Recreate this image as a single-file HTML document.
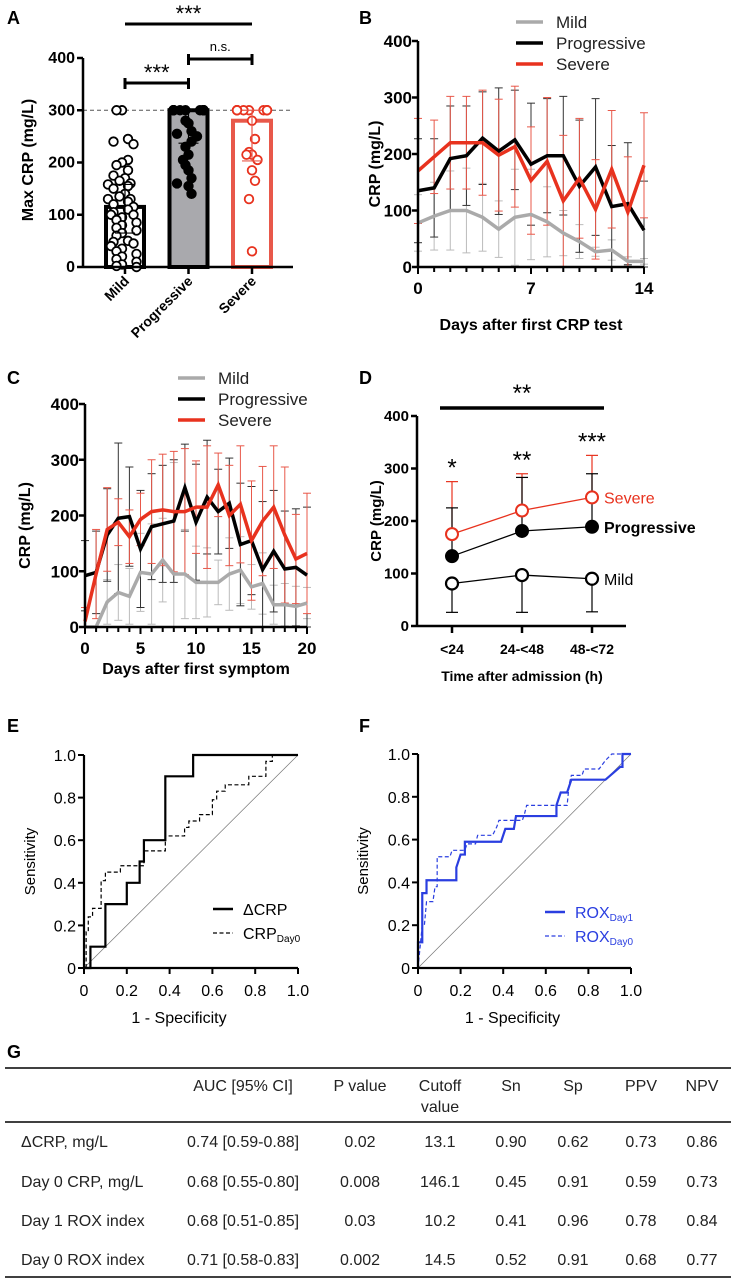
<!DOCTYPE html>
<html><head><meta charset="utf-8"><style>
html,body{margin:0;padding:0;background:#fff;}
svg{display:block;font-family:"Liberation Sans",sans-serif;}
</style></head><body>
<svg id="fig" width="736" height="1280" viewBox="0 0 736 1280" xmlns="http://www.w3.org/2000/svg"></svg>
<script>
// ---------- Panel A data ----------
const aCats = ["Mild","Progressive","Severe"];
const aMeans = [115, 300, 280];
const aErrHi = [158, 300, 300];
const aErrLo = [65, 237, 203];
const aMild = [300,300,245,240,235,205,200,195,185,175,170,165,160,158,155,150,140,135,130,130,125,120,115,110,105,100,100,95,90,85,80,75,70,65,60,50,48,45,40,35,30,25,20,15,10,5,2,0];
const aProg = [300,300,300,300,300,300,300,300,300,300,300,300,300,300,300,280,275,260,255,250,240,230,215,205,195,185,170,160,155,140];
const aSev = [300,300,300,300,300,300,300,300,300,300,280,245,220,215,215,205,185,165,130,30];
const aTicks = [0,100,200,300,400];
// ---------- Panel B data ----------
const bDays = [0,1,2,3,4,5,6,7,8,9,10,11,12,13,14];
const bMild = [78,90,100,100,88,67,88,93,80,60,45,27,30,10,10];
const bMildSD = [50,60,70,75,60,50,85,80,62,40,30,8,18,8,5];
const bProg = [135,140,192,197,228,205,225,182,197,197,143,177,107,112,65];
const bProgSD = [92,87,93,88,82,112,88,108,101,105,117,121,108,108,87];
const bSev = [170,195,220,220,220,198,213,153,187,117,157,102,173,97,180];
const bSevSD = [93,65,82,82,93,99,107,95,113,116,106,88,104,98,93];
const bTicksY = [0,100,200,300,400];
const bTicksX = [0,7,14];
// ---------- Panel C data ----------
const cDays = [0,1,2,3,4,5,6,7,8,9,10,11,12,13,14,15,16,17,18,19,20];
const cMild = [0,0,45,62,55,98,95,120,95,95,80,80,80,95,102,72,78,40,40,37,43];
const cMildSD = [0,0,40,50,50,70,90,75,200,80,65,62,40,65,60,40,55,35,38,36,28];
const cProg = [92,98,165,195,198,140,180,185,190,250,188,233,207,222,148,155,103,136,104,107,93];
const cProgSD = [63,74,83,135,89,105,95,105,110,78,104,102,76,81,110,97,122,109,104,105,122];
const cSev = [10,95,175,188,162,193,207,210,207,207,215,215,255,200,220,155,190,215,165,122,132];
const cSevSD = [25,80,75,42,48,47,93,100,108,113,83,110,57,90,105,107,98,110,122,80,108];
const cTicksY = [0,100,200,300,400];
const cTicksX = [0,5,10,15,20];
// ---------- Panel D data ----------
const dCats = ["<24","24-<48","48-<72"];
const dSev = [175,220,245];
const dSevSD = [100,70,80];
const dProg = [133,181,189];
const dProgSD = [92,102,101];
const dMild = [81,97,90];
const dMildSD = [55,71,63];
const dStars = ["*","**","***"];
const dTicks = [0,100,200,300,400];
// ---------- Panel E data ----------
const eDeltaX = [0,0.03,0.03,0.1,0.1,0.2,0.2,0.26,0.26,0.28,0.28,0.38,0.38,0.51,0.51,1];
const eDeltaY = [0,0,0.1,0.1,0.3,0.3,0.4,0.4,0.5,0.5,0.6,0.6,0.9,0.9,1,1];
const eDay0X = [0.01,0.01,0.02,0.02,0.04,0.04,0.08,0.08,0.1,0.1,0.17,0.17,0.28,0.28,0.38,0.38,0.47,0.47,0.49,0.49,0.54,0.54,0.6,0.6,0.62,0.62,0.66,0.66,0.77,0.77,0.85,0.85,0.88,0.88];
const eDay0Y = [0,0.17,0.17,0.24,0.24,0.28,0.28,0.41,0.41,0.45,0.45,0.48,0.48,0.55,0.55,0.62,0.62,0.66,0.66,0.69,0.69,0.72,0.72,0.79,0.79,0.83,0.83,0.86,0.86,0.9,0.9,0.97,0.97,1];
const rocTicks = [0,0.2,0.4,0.6,0.8,1.0];
const rocTickLabels = ["0","0.2","0.4","0.6","0.8","1.0"];
// ---------- Panel F data ----------
const fDay1X = [0,0,0.02,0.02,0.04,0.04,0.18,0.18,0.2,0.22,0.22,0.39,0.41,0.45,0.46,0.65,0.65,0.67,0.7,0.72,0.88,0.95,0.96,0.96,1];
const fDay1Y = [0,0.12,0.12,0.35,0.35,0.41,0.41,0.47,0.53,0.53,0.59,0.59,0.65,0.65,0.71,0.71,0.76,0.82,0.82,0.88,0.88,0.94,0.94,1,1];
const fDay0X = [0,0.02,0.03,0.04,0.07,0.08,0.09,0.09,0.15,0.16,0.22,0.23,0.27,0.28,0.35,0.37,0.38,0.49,0.5,0.51,0.7,0.71,0.72,0.77,0.78,0.85,0.88,0.91,1];
const fDay0Y = [0,0.2,0.2,0.31,0.31,0.38,0.38,0.52,0.52,0.55,0.55,0.58,0.58,0.62,0.62,0.66,0.69,0.69,0.72,0.76,0.76,0.86,0.9,0.9,0.93,0.93,0.97,1,1];
// ---------- Table data ----------
const tHeaders = ["AUC [95% CI]","P value","Cutoff","Sn","Sp","PPV","NPV"];
const tRowLabels = ["\u0394CRP, mg/L","Day 0 CRP, mg/L","Day 1 ROX index","Day 0 ROX index"];
const tRows = [
 ["0.74 [0.59-0.88]","0.02","13.1","0.90","0.62","0.73","0.86"],
 ["0.68 [0.55-0.80]","0.008","146.1","0.45","0.91","0.59","0.73"],
 ["0.68 [0.51-0.85]","0.03","10.2","0.41","0.96","0.78","0.84"],
 ["0.71 [0.58-0.83]","0.002","14.5","0.52","0.91","0.68","0.77"]];

const NS="http://www.w3.org/2000/svg";
const svg=document.getElementById('fig');
function mk(tag,attrs,parent){const e=document.createElementNS(NS,tag);for(const k in attrs)e.setAttribute(k,attrs[k]);(parent||svg).appendChild(e);return e;}
function grp(name){const g=mk('g',{});return g;}
function txt(p,x,y,s,o){const t=mk('text',Object.assign({x:x,y:y,'font-size':15,fill:'#000'},o||{}),p);t.textContent=s;return t;}
function line(p,x1,y1,x2,y2,c,w,extra){return mk('line',Object.assign({x1:x1,y1:y1,x2:x2,y2:y2,stroke:c,'stroke-width':w},extra||{}),p);}
function poly(p,xs,ys,c,w,extra){let pts=xs.map((x,i)=>x+','+ys[i]).join(' ');return mk('polyline',Object.assign({points:pts,fill:'none',stroke:c,'stroke-width':w,'stroke-linejoin':'miter'},extra||{}),p);}
const RED='#e8321e', GRAY='#aaaaaa';
function panelLabel(s,x,y){const g=grp('panel-label-'+s.toLowerCase());txt(g,x,y,s,{'font-size':18,'font-weight':'bold'});}

// ===== Panel A =====
(function(){
 const g=grp('panel-a');
 const y=v=>267-v*209/400;
 const cx=i=>125+i*63.5;
 panelLabel('A',7,24);
 const barStyles=[{fill:'#fff',stroke:'#000'},{fill:'#a9a9ad',stroke:'#000'},{fill:'#fff',stroke:'#e8584a'}];
 aCats.forEach((c,i)=>{
  const b=mk('rect',{x:cx(i)-19,y:y(aMeans[i]),width:38,height:y(0)-y(aMeans[i]),fill:barStyles[i].fill,stroke:barStyles[i].stroke,'stroke-width':4},g);
  
  
 });
 line(g,83,y(300),293,y(300),'#555',1,{'stroke-dasharray':'4,3'});
 function dots(arr,i,fill,stroke,name,lim){
  const counts={};
  arr.forEach((v,k)=>{
   const key=Math.round(v/15);counts[key]=(counts[key]||0)+1;
   const n=counts[key]-1;
   const off=(n%2===0?1:-1)*Math.ceil(n/2)*8.5 + ((k%3)-1)*3;
   const d=mk('circle',{cx:cx(i)+Math.max(-lim,Math.min(lim,off)),cy:y(v),r:4.3,fill:fill,stroke:stroke,'stroke-width':1.8},g);
   
   
  });
 }
 dots(aMild,0,'#fff','#000','mild-point',18);
 dots(aProg,1,'#000','#000','progressive-point',15);
 dots(aSev,2,'#fff',RED,'severe-point',15);
 aCats.forEach((c,i)=>{
  const col=i===2?'#e8584a':'#000';
  line(g,cx(i),y(aErrLo[i]),cx(i),y(aErrHi[i]),col,1.2);
  line(g,cx(i)-10,y(aErrLo[i]),cx(i)+10,y(aErrLo[i]),col,1.2);
  line(g,cx(i)-10,y(aErrHi[i]),cx(i)+10,y(aErrHi[i]),col,1.2);
 });
 line(g,83,y(0),293,y(0),'#000',2.5);
 line(g,83,y(0)+1,83,y(400),'#000',2.5);
 aTicks.forEach(t=>{line(g,77,y(t),83,y(t),'#000',2.5);txt(g,75,y(t)+5,String(t),{'text-anchor':'end','font-weight':'bold','font-size':16});});
 aCats.forEach((c,i)=>{line(g,cx(i),y(0),cx(i),y(0)+7,'#000',2.5);
  txt(g,cx(i)+5,y(0)+15,c,{'text-anchor':'end','font-weight':'bold','font-size':14,transform:`rotate(-45 ${cx(i)+5} ${y(0)+15})`});});
 txt(g,33,160,'Max CRP (mg/L)',{'text-anchor':'middle','font-weight':'bold','font-size':16,transform:'rotate(-90 33 160)'});
 line(g,cx(0),83,cx(1),83,'#000',3);line(g,cx(0),78,cx(0),89,'#000',3);line(g,cx(1),78,cx(1),89,'#000',3);
 txt(g,(cx(0)+cx(1))/2,80,'***',{'text-anchor':'middle','font-size':22});
 line(g,cx(1),59,cx(2),59,'#000',3);line(g,cx(1),54,cx(1),65,'#000',3);line(g,cx(2),54,cx(2),65,'#000',3);
 txt(g,(cx(1)+cx(2))/2,51,'n.s.',{'text-anchor':'middle','font-size':13});
 line(g,cx(0),24,cx(2),24,'#000',3);
 txt(g,(cx(0)+cx(2))/2,21,'***',{'text-anchor':'middle','font-size':22});
})();

function timePanel(name,days,series,ox,y0,ytop,xmaxDay,xw,ticksY,ticksX,xlabel,xlabelY,ylabX,legX,legY){
 const g=grp(name);
 const y=v=>y0-v*(y0-ytop)/400;
 const x=d=>ox+d*xw/xmaxDay;
 series.forEach(s=>{
  days.forEach((d,i)=>{
   const hi=s.m[i]+s.sd[i], lo=Math.max(0,s.m[i]-s.sd[i]);
   line(g,x(d),y(lo),x(d),y(hi),s.ec,1);
   line(g,x(d)-4,y(hi),x(d)+4,y(hi),s.ec,1);
   line(g,x(d)-4,y(lo),x(d)+4,y(lo),s.ec,1);
  });
 });
 series.forEach(s=>{const p=poly(g,days.map(x),s.m.map(y),s.c,3.5);});
 line(g,ox,y0,ox+xw,y0,'#000',2.5);
 line(g,ox,y0+1,ox,ytop,'#000',2.5);
 ticksY.forEach(t=>{line(g,ox-6,y(t),ox,y(t),'#000',2.5);txt(g,ox-6,y(t)+6,String(t),{'text-anchor':'end','font-weight':'bold','font-size':17});});
 for(let d=0;d<=xmaxDay;d++){line(g,x(d),y0,x(d),y0+(ticksX.includes(d)?7:5),'#000',2);}
 ticksX.forEach(t=>txt(g,x(t),y0+27,String(t),{'text-anchor':'middle','font-weight':'bold','font-size':17}));
 txt(g,ox+xw/2,xlabelY,xlabel,{'text-anchor':'middle','font-weight':'bold','font-size':16});
 const cy=(y0+ytop)/2+10;
 txt(g,ylabX,cy,'CRP (mg/L)',{'text-anchor':'middle','font-weight':'bold','font-size':16,transform:`rotate(-90 ${ylabX} ${cy})`});
 const leg=grp(name+'-legend');
 series.forEach((s,i)=>{const ly=legY+i*21;line(leg,legX,ly,legX+27,ly,s.c,3.5);txt(leg,legX+40,ly+6,s.n,{'font-size':17,fill:'#222'});});
}
timePanel('panel-b',bDays,[
 {n:'Mild',m:bMild,sd:bMildSD,c:GRAY,ec:'#bbb'},
 {n:'Progressive',m:bProg,sd:bProgSD,c:'#000',ec:'#333'},
 {n:'Severe',m:bSev,sd:bSevSD,c:RED,ec:'#e8584a'}],
 418,267,41,14,226,bTicksY,bTicksX,'Days after first CRP test',330,380,516,22);
panelLabel('B',359,24);
timePanel('panel-c',cDays,[
 {n:'Mild',m:cMild,sd:cMildSD,c:GRAY,ec:'#bbb'},
 {n:'Progressive',m:cProg,sd:cProgSD,c:'#000',ec:'#333'},
 {n:'Severe',m:cSev,sd:cSevSD,c:RED,ec:'#e8584a'}],
 85,627,404,20,222,cTicksY,cTicksX,'Days after first symptom',674,30,178,378);
panelLabel('C',7,384);

(function(){
 const g=grp('panel-d');
 panelLabel('D',359,384);
 const y=v=>626-v*210/400;
 const x=i=>452+i*70;
 dCats.forEach((c,i)=>{
  line(g,x(i),y(dSev[i]),x(i),y(dSev[i]+dSevSD[i]),RED,1.2);line(g,x(i)-6,y(dSev[i]+dSevSD[i]),x(i)+6,y(dSev[i]+dSevSD[i]),RED,1.2);
  line(g,x(i),y(dProg[i]),x(i),y(dProg[i]+dProgSD[i]),'#000',1.2);line(g,x(i)-6,y(dProg[i]+dProgSD[i]),x(i)+6,y(dProg[i]+dProgSD[i]),'#000',1.2);
  line(g,x(i),y(dMild[i]),x(i),y(dMild[i]-dMildSD[i]),'#000',1.2);line(g,x(i)-6,y(dMild[i]-dMildSD[i]),x(i)+6,y(dMild[i]-dMildSD[i]),'#000',1.2);
 });
 const idx=dCats.map((c,i)=>i);
 poly(g,idx.map(x),dSev.map(y),RED,1.3);
 poly(g,idx.map(x),dProg.map(y),'#000',1.3);
 poly(g,idx.map(x),dMild.map(y),'#000',1.3);
 idx.forEach(i=>{
  let c=mk('circle',{cx:x(i),cy:y(dSev[i]),r:6,fill:'#fff',stroke:RED,'stroke-width':2},g);
  c=mk('circle',{cx:x(i),cy:y(dProg[i]),r:6.5,fill:'#000',stroke:'#000','stroke-width':1},g);
  c=mk('circle',{cx:x(i),cy:y(dMild[i]),r:6,fill:'#fff',stroke:'#000','stroke-width':2.2},g);
  const top=Math.max(dSev[i]+dSevSD[i],dProg[i]+dProgSD[i]);
  txt(g,x(i),y(top)-6,dStars[i],{'text-anchor':'middle','font-size':24});
 });
 txt(g,x(2)+12,y(dSev[2])+6,'Severe',{'font-size':16,fill:RED});
 txt(g,x(2)+12,y(dProg[2])+6,'Progressive',{'font-size':16,'font-weight':'bold'});
 txt(g,x(2)+12,y(dMild[2])+6,'Mild',{'font-size':16});
 line(g,417,626,626,626,'#000',2.5);
 line(g,417,627,417,416,'#000',2.5);
 dTicks.forEach(t=>{line(g,411,y(t),417,y(t),'#000',2.5);txt(g,409,y(t)+5,String(t),{'text-anchor':'end','font-weight':'bold','font-size':15});});
 dCats.forEach((c,i)=>{line(g,x(i),626,x(i),633,'#000',2.5);txt(g,x(i),654,c,{'text-anchor':'middle','font-weight':'bold','font-size':14});});
 txt(g,522,681,'Time after admission (h)',{'text-anchor':'middle','font-weight':'bold','font-size':14});
 txt(g,381,521,'CRP (mg/L)',{'text-anchor':'middle','font-weight':'bold','font-size':15,transform:'rotate(-90 381 521)'});
 line(g,440,408,604,408,'#000',3.5);
 txt(g,522,401,'**',{'text-anchor':'middle','font-size':24});
})();

function rocPanel(name,ox,y0,w,h,curves,legX,legY,ylabX){
 const g=grp(name);
 const x=v=>ox+v*w, y=v=>y0-v*h;
 line(g,x(0),y(0),x(1),y(1),'#777',0.7);
 curves.forEach(c=>{const p=poly(g,c.xs.map(x),c.ys.map(y),c.col,c.dash?1.2:2.2,c.dash?{'stroke-dasharray':'4,2.5'}:{});});
 line(g,ox,y0,ox+w,y0,'#000',2.2);
 line(g,ox,y0+1,ox,y0-h,'#000',2.2);
 rocTicks.forEach((t,i)=>{
  line(g,ox-6,y(t),ox,y(t),'#000',2);txt(g,ox-8,y(t)+6,rocTickLabels[i],{'text-anchor':'end','font-size':16});
  line(g,x(t),y0,x(t),y0+6,'#000',2);txt(g,x(t),y0+28,rocTickLabels[i],{'text-anchor':'middle','font-size':16});
 });
 txt(g,ox+w/2-12,y0+55,'1 - Specificity',{'text-anchor':'middle','font-size':16});
 const cy=y0-h/2;
 txt(g,ylabX,cy,'Sensitivity',{'text-anchor':'middle','font-size':15,transform:`rotate(-90 ${ylabX} ${cy})`});
 const leg=grp(name+'-legend');
 curves.forEach((c,i)=>{const ly=legY+i*24;line(leg,legX,ly,legX+20,ly,c.col,c.dash?1.2:2.5,c.dash?{'stroke-dasharray':'4,2.5'}:{});
  const t=txt(leg,legX+30,ly+6,c.label,{'font-size':16,fill:c.col});
  const s=mk('tspan',{'font-size':10,dy:3},t);s.textContent=c.sub;});
}
rocPanel('panel-e',84,968,214,213,[
 {key:'delta-crp',xs:eDeltaX,ys:eDeltaY,col:'#000',dash:false,label:'\u0394CRP',sub:''},
 {key:'crp-day0',xs:eDay0X,ys:eDay0Y,col:'#000',dash:true,label:'CRP',sub:'Day0'}],213,909,35);
panelLabel('E',7,732);
rocPanel('panel-f',418,968,213,214,[
 {key:'rox-day1',xs:fDay1X,ys:fDay1Y,col:'#2a3ee0',dash:false,label:'ROX',sub:'Day1'},
 {key:'rox-day0',xs:fDay0X,ys:fDay0Y,col:'#2a3ee0',dash:true,label:'ROX',sub:'Day0'}],545,912,368);
panelLabel('F',359,732);

(function(){
 const g=grp('panel-g-table');
 panelLabel('G',7,1058);
 const colX=[243,360,440,511,573,641,702];
 line(g,5,1068,731,1068,'#000',1.5);
 line(g,5,1122,731,1122,'#000',1.5);
 line(g,5,1277,731,1277,'#000',1.5);
 tHeaders.forEach((h,i)=>txt(g,colX[i],1091,h,{'text-anchor':'middle','font-size':16,fill:'#222'}));
 txt(g,colX[2],1112,'value',{'text-anchor':'middle','font-size':16,fill:'#222'});
 const rowY=[1147,1187,1226,1265];
 tRowLabels.forEach((r,i)=>{
  txt(g,21,rowY[i],r,{'font-size':16,fill:'#222'});
  tRows[i].forEach((v,j)=>txt(g,colX[j],rowY[i],v,{'text-anchor':'middle','font-size':16,fill:'#222'}));
 });
})();
</script>
</body></html>
